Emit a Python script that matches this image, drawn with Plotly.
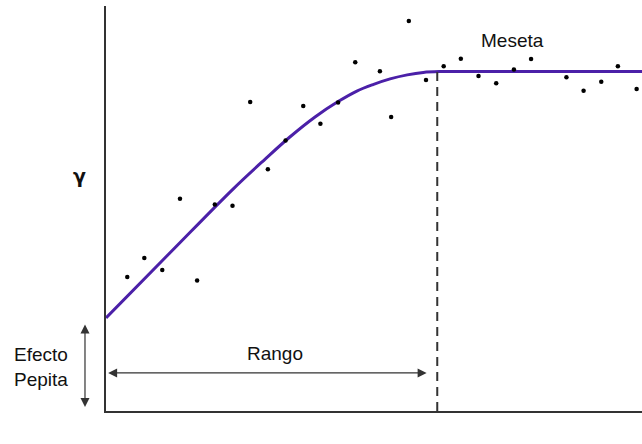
import plotly.graph_objects as go

# Experimental semivariogram points (lag, gamma)
lag_pts = [3.97, 7.15, 10.5, 13.8, 17.0, 20.3, 23.6, 26.9, 30.2, 33.5, 36.8, 40.0, 43.3, 46.5,
           51.1, 53.2, 56.5, 59.7, 63.0, 66.2, 69.5, 72.8, 76.1, 79.3, 85.9, 89.1, 92.4, 95.5, 99.0]
gamma_pts = [33.1, 37.8, 34.8, 52.4, 32.2, 51.0, 50.7, 76.3, 59.7, 66.8, 75.3, 70.9, 76.2, 86.1,
             83.9, 72.6, 96.3, 81.7, 85.1, 87.0, 82.7, 80.9, 84.3, 86.9, 82.4, 79.1, 81.3, 85.1, 79.5]

# Fitted model curve
lag_model = [0, 11.9, 23.7, 29.7, 34.3, 39.0, 43.3, 46.8, 49.8, 53.0, 56.2, 59.2, 62.3, 75, 100]
gamma_model = [23.0, 39.0, 54.8, 62.2, 67.65, 72.6, 76.4, 79.0, 80.6, 82.0, 83.0, 83.6, 83.8, 83.8, 83.8]

nugget = 23.0
sill = 83.8
rango = 61.8

FONT = "Liberation Sans, Arial, Helvetica, sans-serif"
TXT = "#111111"
AX = "#333333"

fig = go.Figure()
fig.add_trace(go.Scatter(x=lag_model, y=gamma_model, mode="lines",
                         line=dict(color="#4b20a8", width=3, shape="spline", smoothing=1.0),
                         hoverinfo="skip"))
fig.add_trace(go.Scatter(x=lag_pts, y=gamma_pts, mode="markers",
                         marker=dict(color="#000000", size=4.5)))

# dashed range line
fig.add_shape(type="line", x0=rango, x1=rango, y0=0, y1=sill, xref="x", yref="y",
              line=dict(color=AX, width=2, dash="9px,6px"))

annots = [
    # Rango arrow
    dict(x=0.4, y=9.4, ax=rango - 1.7, ay=9.4, xref="x", yref="y", axref="x", ayref="y",
         text="", showarrow=True, arrowhead=2, startarrowhead=2, arrowside="end+start",
         arrowsize=1.5, startarrowsize=1.5, arrowwidth=1.2, arrowcolor=AX),
    # Efecto pepita arrow (x in paper coords, left of the axis)
    dict(x=-0.0392, y=1.0, ax=0, ay=-84, xref="paper", yref="y", axref="pixel", ayref="pixel",
         text="", showarrow=True, arrowhead=2, startarrowhead=2, arrowside="end+start",
         arrowsize=1.5, startarrowsize=1.5, arrowwidth=1.2, arrowcolor=AX),
    dict(x=31.5, y=14.3, xref="x", yref="y", text="Rango", showarrow=False,
         font=dict(size=19, color=TXT, family=FONT)),
    dict(x=75.9, y=91.6, xref="x", yref="y", text="Meseta", showarrow=False,
         font=dict(size=19, color=TXT, family=FONT)),
    dict(x=-0.066, y=58.0, xref="paper", yref="y", text="<b>γ</b>", showarrow=False,
         font=dict(size=19, color=TXT, family="DejaVu Sans, sans-serif")),
    dict(x=50.2, y=-5.2, xref="x", yref="y", text="Lag (distancia)", showarrow=False,
         font=dict(size=19, color=TXT, family=FONT)),
    dict(x=-0.1754, y=10.9, xref="paper", yref="y", text="Efecto<br>Pepita", showarrow=False,
         xanchor="left", yanchor="middle", align="left",
         font=dict(size=19, color=TXT, family=FONT)),
]
fig.update_layout(annotations=annots)

fig.update_layout(
    width=642, height=444,
    margin=dict(l=106, r=0, t=6, b=33),
    paper_bgcolor="white", plot_bgcolor="white",
    showlegend=False,
    xaxis=dict(range=[0, 100], showgrid=False, zeroline=False, showticklabels=False, ticks="",
               showline=True, linecolor=AX, linewidth=2),
    yaxis=dict(range=[0, 100], showgrid=False, zeroline=False, showticklabels=False, ticks="",
               showline=True, linecolor=AX, linewidth=2),
)

fig.write_html("out.html", config={"displayModeBar": False},
               post_script="document.body.style.margin='0';")
